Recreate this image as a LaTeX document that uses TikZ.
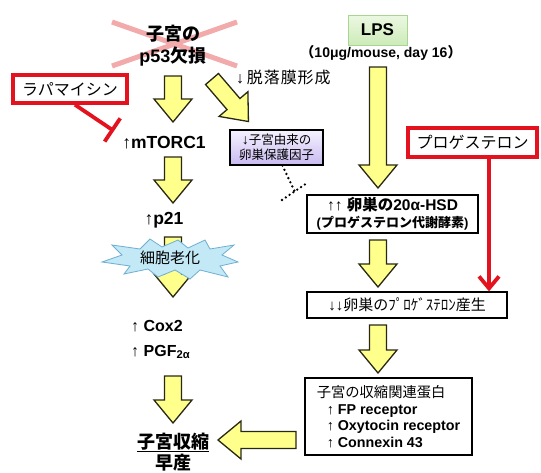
\documentclass[tikz,border=0pt]{standalone}
\usepackage{fontspec}
\setmainfont{Liberation Sans}
\newfontfamily\jp{Noto Sans CJK JP}
\newfontfamily\jpsp[LetterSpace=6]{Noto Sans CJK JP}
\usetikzlibrary{arrows.meta}
\definecolor{ayellow}{RGB}{255,255,140}
\definecolor{aedge}{RGB}{40,40,20}
\definecolor{xpink}{RGB}{242,170,170}
\definecolor{rred}{RGB}{228,18,30}
\definecolor{sblue}{RGB}{195,232,246}
\definecolor{sedge}{RGB}{110,175,210}
\definecolor{ptop}{RGB}{246,242,255}
\definecolor{pbot}{RGB}{200,186,240}
\definecolor{gtop}{RGB}{236,248,226}
\definecolor{gbot}{RGB}{205,235,185}
\definecolor{gedge}{RGB}{170,212,145}
\begin{document}
\begin{tikzpicture}[x=1pt,y=-1pt,
  yarr/.style={fill=ayellow,draw=aedge,line width=1.3pt,line join=miter},
  pics/barrow/.style={code={\draw[yarr] (-8.5,0) -- (-8.5,{#1-23}) -- (-19,{#1-23}) -- (0,#1) -- (19,{#1-23}) -- (8.5,{#1-23}) -- (8.5,0) -- cycle;}},
  redbox/.style={draw=rred,line width=3.5pt,fill=white,inner sep=0pt,font=\jp\fontsize{16}{18}\selectfont},
  redl/.style={draw=rred,line width=3.8pt},
  blackbox/.style={draw=black,line width=1.3pt,fill=white,inner sep=0pt},
  bigb/.style={font=\bfseries\fontsize{17.5}{20}\selectfont,inner sep=0pt},
  dotl/.style={draw=black,line width=2.6pt,line cap=round,dash pattern=on 0pt off 4.6pt},
]
\fill[white] (0,0) rectangle (541,472);
\useasboundingbox (0,0) rectangle (541,472);

% ---- left column ----
\draw[xpink,line width=5pt] (112,22) -- (237,66);
\draw[xpink,line width=5pt] (112,66) -- (237,22);
\node[font=\bfseries\fontsize{18}{22}\selectfont,align=center,inner sep=0pt] (p53) at (173,46) {{\jp 子宮の}\\p53{\jp 欠損}};

\pic at (173,76) {barrow=46};
\pic[rotate=40.6] at (212,79) {barrow=56};

\node[redbox,minimum width=114pt,minimum height=28pt] (rapa) at (70,89) {ラパマイシン};
\coordinate (rapaend) at (114,131);
\draw[redl,-{Bar[width=28pt]}] ([xshift=5pt]rapa.south) -- (rapaend);

\node[bigb] (mtor) at (164,143) {↑mTORC1};
\pic at (173,157) {barrow=46};
\node[bigb] (p21) at (164,220) {↑p21};
\pic at (173,237) {barrow=60};
\draw[fill=sblue,draw=sedge,line width=0.8pt,line join=miter]
  (102,262) -- (122,255) -- (112,245) -- (140,249) -- (150,239) -- (162,247) -- (178,240)
  -- (188,248) -- (205,240) -- (210,249) -- (234,245) -- (222,255) -- (238,262) -- (220,266)
  -- (228,277) -- (200,270) -- (190,279) -- (175,270) -- (158,277) -- (148,269) -- (124,274)
  -- (130,266) -- cycle;
\node[font=\jp\fontsize{15}{17}\selectfont,inner sep=0pt] (sen) at (170,258) {細胞老化};

\node[bigb,anchor=west,font=\bfseries\fontsize{16}{18}\selectfont] (cox) at (131,326) {↑ Cox2};
\node[bigb,anchor=west,font=\bfseries\fontsize{16}{18}\selectfont] (pgf) at (131,352) {↑ PGF\textsubscript{2α}};
\pic at (173,376) {barrow=47};
\node[font=\jp\bfseries\fontsize{18}{21}\selectfont,align=center,inner sep=0pt] (ut) at (173,452) {\underline{子宮収縮}\\早産};

% ---- middle ----
\node[anchor=west,font=\fontsize{16}{18}\selectfont,inner sep=0pt] (decid) at (236,77) {↓\,{\jpsp 脱落膜形成}};
\node[draw=black,line width=1.3pt,top color=ptop,bottom color=pbot,minimum width=93pt,minimum height=35pt,inner sep=0pt,align=center,font=\fontsize{12.5}{15}\selectfont] (fac) at (276.5,147.5) {{\bfseries\fontsize{14}{15}\selectfont ↓}{\jp 子宮由来の}\\{\jp 卵巣保護因子}};
\coordinate (dend) at (295,192);
\coordinate (b1) at (282,200);
\coordinate (b2) at (307,183);
\draw[dotl] ([xshift=6pt]fac.south) -- (dend);
\draw[dotl] (b1) -- (b2);

% ---- right column ----
\node[draw=gedge,line width=1pt,top color=gtop,bottom color=gbot,minimum width=59pt,minimum height=30pt,inner sep=0pt,font=\bfseries\fontsize{17}{20}\selectfont] (lps) at (377.5,30) {LPS};
\node[font=\bfseries\fontsize{14}{16}\selectfont,inner sep=0pt] (dose) at (381,53) {{\jp （}10μg/mouse, day 16{\jp ）}};
\pic at (378,67) {barrow=121};

\node[redbox,minimum width=129pt,minimum height=29pt] (prog) at (472.5,142.5) {プロゲステロン};

\node[blackbox,minimum width=171pt,minimum height=38pt,align=center,font=\bfseries\fontsize{15.5}{17}\selectfont] (hsd) at (392.5,214) {{\mdseries ↑↑} {\jp 卵巣の}20α-HSD\\{\fontsize{13}{17}\selectfont (}{\jp\fontsize{13}{17}\selectfont プロゲステロン代謝酵素}{\fontsize{13}{17}\selectfont )}};
\pic at (378,240) {barrow=47};

\node[blackbox,minimum width=200pt,minimum height=26pt,font=\fontsize{15}{17}\selectfont] (prod) at (407,305) {↓↓{\jp 卵巣のﾌﾟﾛｹﾞｽﾃﾛﾝ産生}};
\draw[redl,-{Straight Barb[length=12pt,width=20pt]}] ([xshift=16.5pt]prog.south) -- ([xshift=16.5pt]prog.south |- prod.north);
\pic at (378,325) {barrow=48};

\node[blackbox,minimum width=167pt,minimum height=77pt,align=left,font=\bfseries\fontsize{14.3}{16.5}\selectfont] (con) at (388.5,416.5) {{\jp\mdseries 子宮の収縮関連蛋白}\\\hspace*{10pt}{\mdseries ↑} FP receptor\\\hspace*{10pt}{\mdseries ↑} Oxytocin receptor\\\hspace*{10pt}{\mdseries ↑} Connexin 43};
\pic[rotate=-90] at (296,440) {barrow=78};
\end{tikzpicture}
\end{document}
